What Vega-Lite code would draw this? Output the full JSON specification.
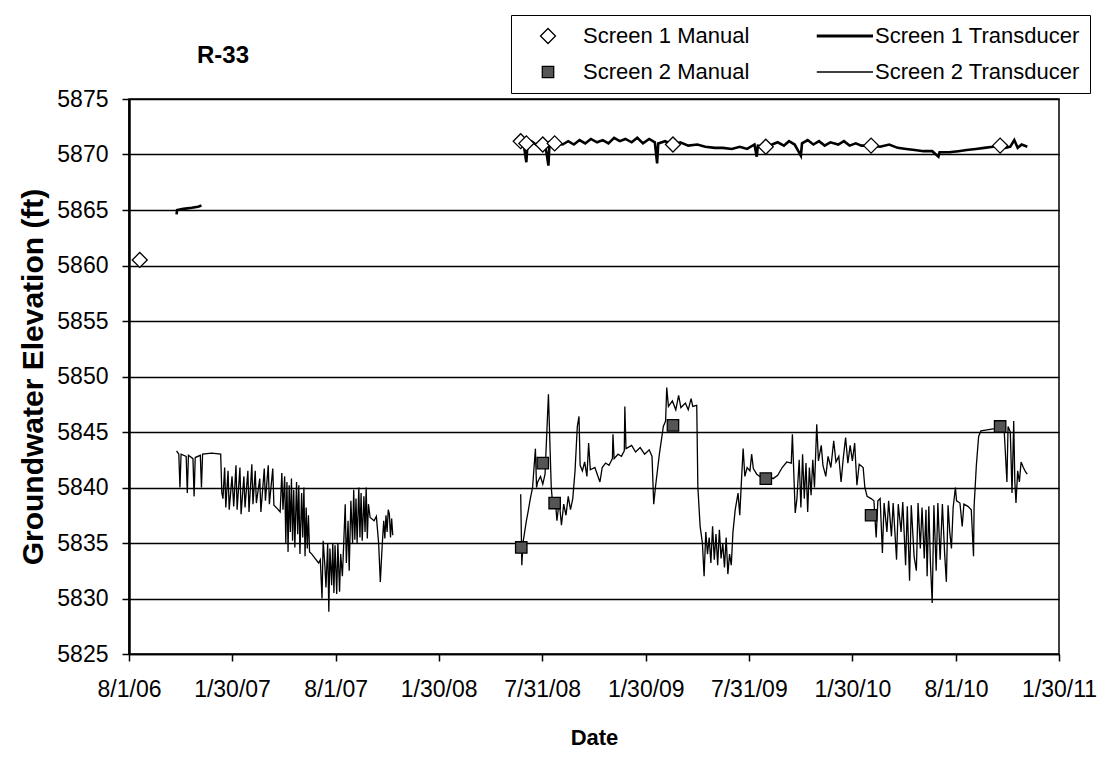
{
"$schema": "https://vega.github.io/schema/vega-lite/v6.json",
"width": 930, "height": 555,
"autosize": {"type": "none"},
"padding": {"left": 129, "top": 99, "right": 50, "bottom": 105},
"background": "white",
"config": {
  "font": "Liberation Sans",
  "view": {"stroke": "black", "strokeWidth": 1.5},
  "axis": {"labelFont": "Liberation Sans", "labelFontSize": 23, "labelColor": "black", "titleFont": "Liberation Sans", "titleFontSize": 22, "titleFontWeight": "bold", "titleColor": "black", "domainColor": "black", "domainWidth": 1.5, "tickColor": "black", "tickWidth": 1.5, "tickSize": 7, "gridColor": "black", "gridWidth": 1.5, "gridOpacity": 1},
  "legend": {"columnPadding": 60, "rowPadding": 14, "padding": 10, "strokeColor": "black", "labelFont": "Liberation Sans", "labelFontSize": 22, "labelColor": "black", "labelOffset": 24, "symbolOffset": 16, "labelLimit": 400, "symbolOpacity": 1}
},
"title": {"text": "R-33", "anchor": "start", "frame": "group", "dx": 68, "offset": -72, "baseline": "alphabetic", "fontSize": 24, "fontWeight": "bold", "font": "Liberation Sans", "color": "black"},
"datasets": {
  "manual": [
    {"series": "Screen 1 Manual", "date": "2006-08-20", "elev": 5860.5},
    {"series": "Screen 1 Manual", "date": "2008-06-23", "elev": 5871.2},
    {"series": "Screen 1 Manual", "date": "2008-07-03", "elev": 5871.0},
    {"series": "Screen 1 Manual", "date": "2008-08-01", "elev": 5870.9},
    {"series": "Screen 1 Manual", "date": "2008-08-22", "elev": 5871.0},
    {"series": "Screen 1 Manual", "date": "2009-03-19", "elev": 5870.9},
    {"series": "Screen 1 Manual", "date": "2009-08-30", "elev": 5870.7},
    {"series": "Screen 1 Manual", "date": "2010-03-04", "elev": 5870.8},
    {"series": "Screen 1 Manual", "date": "2010-10-18", "elev": 5870.8},
    {"series": "Screen 2 Manual", "date": "2008-06-24", "elev": 5834.6},
    {"series": "Screen 2 Manual", "date": "2008-08-01", "elev": 5842.2},
    {"series": "Screen 2 Manual", "date": "2008-08-22", "elev": 5838.6},
    {"series": "Screen 2 Manual", "date": "2009-03-19", "elev": 5845.6},
    {"series": "Screen 2 Manual", "date": "2009-08-30", "elev": 5840.8},
    {"series": "Screen 2 Manual", "date": "2010-03-04", "elev": 5837.5},
    {"series": "Screen 2 Manual", "date": "2010-10-18", "elev": 5845.5}
  ],
  "trans": [
    {"series": "Screen 1 Transducer", "seg": "a0", "date": "2006-10-24", "elev": 5864.6},
    {"series": "Screen 1 Transducer", "seg": "a0", "date": "2006-10-25", "elev": 5865.0},
    {"series": "Screen 1 Transducer", "seg": "a0", "date": "2006-11-05", "elev": 5865.1},
    {"series": "Screen 1 Transducer", "seg": "a0", "date": "2006-11-20", "elev": 5865.2},
    {"series": "Screen 1 Transducer", "seg": "a0", "date": "2006-12-01", "elev": 5865.3},
    {"series": "Screen 1 Transducer", "seg": "a0", "date": "2006-12-07", "elev": 5865.4},

    {"series": "Screen 1 Transducer", "seg": "a1", "date": "2008-06-23", "elev": 5871.3},
    {"series": "Screen 1 Transducer", "seg": "a1", "date": "2008-06-28", "elev": 5871.0},
    {"series": "Screen 1 Transducer", "seg": "a1", "date": "2008-07-03", "elev": 5869.3},
    {"series": "Screen 1 Transducer", "seg": "a1", "date": "2008-07-05", "elev": 5871.0},
    {"series": "Screen 1 Transducer", "seg": "a1", "date": "2008-07-12", "elev": 5871.2},
    {"series": "Screen 1 Transducer", "seg": "a1", "date": "2008-07-20", "elev": 5870.9},
    {"series": "Screen 1 Transducer", "seg": "a1", "date": "2008-07-28", "elev": 5871.1},
    {"series": "Screen 1 Transducer", "seg": "a1", "date": "2008-08-05", "elev": 5871.0},
    {"series": "Screen 1 Transducer", "seg": "a1", "date": "2008-08-11", "elev": 5869.0},
    {"series": "Screen 1 Transducer", "seg": "a1", "date": "2008-08-13", "elev": 5871.1},
    {"series": "Screen 1 Transducer", "seg": "a1", "date": "2008-08-25", "elev": 5871.0},
    {"series": "Screen 1 Transducer", "seg": "a1", "date": "2008-09-05", "elev": 5870.9},
    {"series": "Screen 1 Transducer", "seg": "a1", "date": "2008-09-15", "elev": 5871.2},
    {"series": "Screen 1 Transducer", "seg": "a1", "date": "2008-09-25", "elev": 5870.9},
    {"series": "Screen 1 Transducer", "seg": "a1", "date": "2008-10-05", "elev": 5871.3},
    {"series": "Screen 1 Transducer", "seg": "a1", "date": "2008-10-15", "elev": 5871.0},
    {"series": "Screen 1 Transducer", "seg": "a1", "date": "2008-10-25", "elev": 5871.4},
    {"series": "Screen 1 Transducer", "seg": "a1", "date": "2008-11-05", "elev": 5871.1},
    {"series": "Screen 1 Transducer", "seg": "a1", "date": "2008-11-15", "elev": 5871.3},
    {"series": "Screen 1 Transducer", "seg": "a1", "date": "2008-11-25", "elev": 5871.0},
    {"series": "Screen 1 Transducer", "seg": "a1", "date": "2008-12-05", "elev": 5871.5},
    {"series": "Screen 1 Transducer", "seg": "a1", "date": "2008-12-15", "elev": 5871.2},
    {"series": "Screen 1 Transducer", "seg": "a1", "date": "2008-12-25", "elev": 5871.4},
    {"series": "Screen 1 Transducer", "seg": "a1", "date": "2009-01-05", "elev": 5871.1},
    {"series": "Screen 1 Transducer", "seg": "a1", "date": "2009-01-15", "elev": 5871.5},
    {"series": "Screen 1 Transducer", "seg": "a1", "date": "2009-01-25", "elev": 5871.0},
    {"series": "Screen 1 Transducer", "seg": "a1", "date": "2009-02-05", "elev": 5871.4},
    {"series": "Screen 1 Transducer", "seg": "a1", "date": "2009-02-15", "elev": 5871.1},
    {"series": "Screen 1 Transducer", "seg": "a1", "date": "2009-02-19", "elev": 5869.2},
    {"series": "Screen 1 Transducer", "seg": "a1", "date": "2009-02-21", "elev": 5871.0},
    {"series": "Screen 1 Transducer", "seg": "a1", "date": "2009-03-05", "elev": 5871.2},
    {"series": "Screen 1 Transducer", "seg": "a1", "date": "2009-03-19", "elev": 5870.9},
    {"series": "Screen 1 Transducer", "seg": "a1", "date": "2009-04-01", "elev": 5871.1},
    {"series": "Screen 1 Transducer", "seg": "a1", "date": "2009-04-15", "elev": 5870.8},
    {"series": "Screen 1 Transducer", "seg": "a1", "date": "2009-05-01", "elev": 5870.9},
    {"series": "Screen 1 Transducer", "seg": "a1", "date": "2009-05-15", "elev": 5870.7},
    {"series": "Screen 1 Transducer", "seg": "a1", "date": "2009-06-01", "elev": 5870.6},
    {"series": "Screen 1 Transducer", "seg": "a1", "date": "2009-06-15", "elev": 5870.6},
    {"series": "Screen 1 Transducer", "seg": "a1", "date": "2009-07-01", "elev": 5870.5},
    {"series": "Screen 1 Transducer", "seg": "a1", "date": "2009-07-15", "elev": 5870.7},
    {"series": "Screen 1 Transducer", "seg": "a1", "date": "2009-07-28", "elev": 5870.5},
    {"series": "Screen 1 Transducer", "seg": "a1", "date": "2009-08-10", "elev": 5870.9},
    {"series": "Screen 1 Transducer", "seg": "a1", "date": "2009-08-14", "elev": 5869.8},
    {"series": "Screen 1 Transducer", "seg": "a1", "date": "2009-08-16", "elev": 5870.8},
    {"series": "Screen 1 Transducer", "seg": "a1", "date": "2009-08-30", "elev": 5870.7},
    {"series": "Screen 1 Transducer", "seg": "a1", "date": "2009-09-10", "elev": 5870.9},
    {"series": "Screen 1 Transducer", "seg": "a1", "date": "2009-09-20", "elev": 5871.1},
    {"series": "Screen 1 Transducer", "seg": "a1", "date": "2009-10-01", "elev": 5870.8},
    {"series": "Screen 1 Transducer", "seg": "a1", "date": "2009-10-10", "elev": 5871.2},
    {"series": "Screen 1 Transducer", "seg": "a1", "date": "2009-10-20", "elev": 5870.9},
    {"series": "Screen 1 Transducer", "seg": "a1", "date": "2009-10-31", "elev": 5869.9},
    {"series": "Screen 1 Transducer", "seg": "a1", "date": "2009-11-02", "elev": 5871.0},
    {"series": "Screen 1 Transducer", "seg": "a1", "date": "2009-11-12", "elev": 5871.3},
    {"series": "Screen 1 Transducer", "seg": "a1", "date": "2009-11-22", "elev": 5870.9},
    {"series": "Screen 1 Transducer", "seg": "a1", "date": "2009-12-02", "elev": 5871.2},
    {"series": "Screen 1 Transducer", "seg": "a1", "date": "2009-12-12", "elev": 5870.8},
    {"series": "Screen 1 Transducer", "seg": "a1", "date": "2009-12-22", "elev": 5871.1},
    {"series": "Screen 1 Transducer", "seg": "a1", "date": "2010-01-05", "elev": 5870.9},
    {"series": "Screen 1 Transducer", "seg": "a1", "date": "2010-01-15", "elev": 5871.2},
    {"series": "Screen 1 Transducer", "seg": "a1", "date": "2010-01-25", "elev": 5870.8},
    {"series": "Screen 1 Transducer", "seg": "a1", "date": "2010-02-05", "elev": 5871.0},
    {"series": "Screen 1 Transducer", "seg": "a1", "date": "2010-02-15", "elev": 5870.8},
    {"series": "Screen 1 Transducer", "seg": "a1", "date": "2010-03-04", "elev": 5870.8},
    {"series": "Screen 1 Transducer", "seg": "a1", "date": "2010-03-20", "elev": 5870.7},
    {"series": "Screen 1 Transducer", "seg": "a1", "date": "2010-04-05", "elev": 5870.9},
    {"series": "Screen 1 Transducer", "seg": "a1", "date": "2010-04-20", "elev": 5870.6},
    {"series": "Screen 1 Transducer", "seg": "a1", "date": "2010-05-05", "elev": 5870.5},
    {"series": "Screen 1 Transducer", "seg": "a1", "date": "2010-05-20", "elev": 5870.4},
    {"series": "Screen 1 Transducer", "seg": "a1", "date": "2010-06-05", "elev": 5870.3},
    {"series": "Screen 1 Transducer", "seg": "a1", "date": "2010-06-20", "elev": 5870.3},
    {"series": "Screen 1 Transducer", "seg": "a1", "date": "2010-07-01", "elev": 5869.8},
    {"series": "Screen 1 Transducer", "seg": "a1", "date": "2010-07-03", "elev": 5870.2},
    {"series": "Screen 1 Transducer", "seg": "a1", "date": "2010-07-20", "elev": 5870.2},
    {"series": "Screen 1 Transducer", "seg": "a1", "date": "2010-08-05", "elev": 5870.3},
    {"series": "Screen 1 Transducer", "seg": "a1", "date": "2010-08-20", "elev": 5870.4},
    {"series": "Screen 1 Transducer", "seg": "a1", "date": "2010-09-05", "elev": 5870.5},
    {"series": "Screen 1 Transducer", "seg": "a1", "date": "2010-09-20", "elev": 5870.6},
    {"series": "Screen 1 Transducer", "seg": "a1", "date": "2010-10-05", "elev": 5870.7},
    {"series": "Screen 1 Transducer", "seg": "a1", "date": "2010-10-18", "elev": 5870.9},
    {"series": "Screen 1 Transducer", "seg": "a1", "date": "2010-10-28", "elev": 5870.6},
    {"series": "Screen 1 Transducer", "seg": "a1", "date": "2010-11-05", "elev": 5870.7},
    {"series": "Screen 1 Transducer", "seg": "a1", "date": "2010-11-12", "elev": 5871.3},
    {"series": "Screen 1 Transducer", "seg": "a1", "date": "2010-11-18", "elev": 5870.6},
    {"series": "Screen 1 Transducer", "seg": "a1", "date": "2010-11-25", "elev": 5870.9},
    {"series": "Screen 1 Transducer", "seg": "a1", "date": "2010-12-05", "elev": 5870.7},

    {"series": "Screen 2 Transducer", "seg": "b1", "date": "2006-10-24", "elev": 5843.3},
    {"series": "Screen 2 Transducer", "seg": "b1", "date": "2006-10-28", "elev": 5843.0},
    {"series": "Screen 2 Transducer", "seg": "b1", "date": "2006-10-30", "elev": 5840.0},
    {"series": "Screen 2 Transducer", "seg": "b1", "date": "2006-11-01", "elev": 5843.0},
    {"series": "Screen 2 Transducer", "seg": "b1", "date": "2006-11-10", "elev": 5842.8},
    {"series": "Screen 2 Transducer", "seg": "b1", "date": "2006-11-12", "elev": 5839.5},
    {"series": "Screen 2 Transducer", "seg": "b1", "date": "2006-11-14", "elev": 5842.9},
    {"series": "Screen 2 Transducer", "seg": "b1", "date": "2006-11-22", "elev": 5842.6},
    {"series": "Screen 2 Transducer", "seg": "b1", "date": "2006-11-24", "elev": 5839.2},
    {"series": "Screen 2 Transducer", "seg": "b1", "date": "2006-11-26", "elev": 5842.7},
    {"series": "Screen 2 Transducer", "seg": "b1", "date": "2006-12-05", "elev": 5842.9},
    {"series": "Screen 2 Transducer", "seg": "b1", "date": "2006-12-07", "elev": 5840.0},
    {"series": "Screen 2 Transducer", "seg": "b1", "date": "2006-12-09", "elev": 5843.0},
    {"series": "Screen 2 Transducer", "seg": "b1", "date": "2006-12-25", "elev": 5843.1},
    {"series": "Screen 2 Transducer", "seg": "b1", "date": "2007-01-10", "elev": 5843.0},
    {"series": "Screen 2 Transducer", "seg": "b1", "date": "2007-01-12", "elev": 5839.5},
    {"series": "Screen 2 Transducer", "seg": "b1", "date": "2007-01-14", "elev": 5839.0},
    {"series": "Screen 2 Transducer", "seg": "b1", "date": "2007-01-17", "elev": 5841.8},
    {"series": "Screen 2 Transducer", "seg": "b1", "date": "2007-01-19", "elev": 5838.2},
    {"series": "Screen 2 Transducer", "seg": "b1", "date": "2007-01-23", "elev": 5841.5},
    {"series": "Screen 2 Transducer", "seg": "b1", "date": "2007-01-25", "elev": 5838.0},
    {"series": "Screen 2 Transducer", "seg": "b1", "date": "2007-01-30", "elev": 5841.0},
    {"series": "Screen 2 Transducer", "seg": "b1", "date": "2007-02-02", "elev": 5838.3},
    {"series": "Screen 2 Transducer", "seg": "b1", "date": "2007-02-06", "elev": 5842.0},
    {"series": "Screen 2 Transducer", "seg": "b1", "date": "2007-02-08", "elev": 5838.0},
    {"series": "Screen 2 Transducer", "seg": "b1", "date": "2007-02-13", "elev": 5841.8},
    {"series": "Screen 2 Transducer", "seg": "b1", "date": "2007-02-15", "elev": 5837.6},
    {"series": "Screen 2 Transducer", "seg": "b1", "date": "2007-02-20", "elev": 5841.0},
    {"series": "Screen 2 Transducer", "seg": "b1", "date": "2007-02-22", "elev": 5838.2},
    {"series": "Screen 2 Transducer", "seg": "b1", "date": "2007-02-27", "elev": 5841.5},
    {"series": "Screen 2 Transducer", "seg": "b1", "date": "2007-03-01", "elev": 5837.8},
    {"series": "Screen 2 Transducer", "seg": "b1", "date": "2007-03-06", "elev": 5842.1},
    {"series": "Screen 2 Transducer", "seg": "b1", "date": "2007-03-08", "elev": 5838.5},
    {"series": "Screen 2 Transducer", "seg": "b1", "date": "2007-03-12", "elev": 5841.5},
    {"series": "Screen 2 Transducer", "seg": "b1", "date": "2007-03-14", "elev": 5838.6},
    {"series": "Screen 2 Transducer", "seg": "b1", "date": "2007-03-20", "elev": 5840.8},
    {"series": "Screen 2 Transducer", "seg": "b1", "date": "2007-03-22", "elev": 5837.8},
    {"series": "Screen 2 Transducer", "seg": "b1", "date": "2007-03-28", "elev": 5841.7},
    {"series": "Screen 2 Transducer", "seg": "b1", "date": "2007-03-30", "elev": 5838.8},
    {"series": "Screen 2 Transducer", "seg": "b1", "date": "2007-04-04", "elev": 5842.0},
    {"series": "Screen 2 Transducer", "seg": "b1", "date": "2007-04-06", "elev": 5838.5},
    {"series": "Screen 2 Transducer", "seg": "b1", "date": "2007-04-12", "elev": 5841.7},
    {"series": "Screen 2 Transducer", "seg": "b1", "date": "2007-04-14", "elev": 5838.4},
    {"series": "Screen 2 Transducer", "seg": "b1", "date": "2007-04-20", "elev": 5838.1},
    {"series": "Screen 2 Transducer", "seg": "b1", "date": "2007-04-25", "elev": 5837.8},
    {"series": "Screen 2 Transducer", "seg": "b1", "date": "2007-04-28", "elev": 5841.3},
    {"series": "Screen 2 Transducer", "seg": "b1", "date": "2007-04-30", "elev": 5838.0},
    {"series": "Screen 2 Transducer", "seg": "b1", "date": "2007-05-03", "elev": 5841.0},
    {"series": "Screen 2 Transducer", "seg": "b1", "date": "2007-05-05", "elev": 5835.0},
    {"series": "Screen 2 Transducer", "seg": "b1", "date": "2007-05-07", "elev": 5840.5},
    {"series": "Screen 2 Transducer", "seg": "b1", "date": "2007-05-09", "elev": 5834.2},
    {"series": "Screen 2 Transducer", "seg": "b1", "date": "2007-05-11", "elev": 5840.2},
    {"series": "Screen 2 Transducer", "seg": "b1", "date": "2007-05-13", "elev": 5836.0},
    {"series": "Screen 2 Transducer", "seg": "b1", "date": "2007-05-15", "elev": 5840.8},
    {"series": "Screen 2 Transducer", "seg": "b1", "date": "2007-05-17", "elev": 5835.2},
    {"series": "Screen 2 Transducer", "seg": "b1", "date": "2007-05-19", "elev": 5839.8},
    {"series": "Screen 2 Transducer", "seg": "b1", "date": "2007-05-21", "elev": 5834.6},
    {"series": "Screen 2 Transducer", "seg": "b1", "date": "2007-05-24", "elev": 5840.5},
    {"series": "Screen 2 Transducer", "seg": "b1", "date": "2007-05-26", "elev": 5835.8},
    {"series": "Screen 2 Transducer", "seg": "b1", "date": "2007-05-28", "elev": 5840.2},
    {"series": "Screen 2 Transducer", "seg": "b1", "date": "2007-05-30", "elev": 5834.0},
    {"series": "Screen 2 Transducer", "seg": "b1", "date": "2007-06-02", "elev": 5839.5},
    {"series": "Screen 2 Transducer", "seg": "b1", "date": "2007-06-04", "elev": 5835.5},
    {"series": "Screen 2 Transducer", "seg": "b1", "date": "2007-06-06", "elev": 5840.0},
    {"series": "Screen 2 Transducer", "seg": "b1", "date": "2007-06-08", "elev": 5833.8},
    {"series": "Screen 2 Transducer", "seg": "b1", "date": "2007-06-10", "elev": 5838.2},
    {"series": "Screen 2 Transducer", "seg": "b1", "date": "2007-06-12", "elev": 5834.5},
    {"series": "Screen 2 Transducer", "seg": "b1", "date": "2007-06-14", "elev": 5837.5},
    {"series": "Screen 2 Transducer", "seg": "b1", "date": "2007-06-16", "elev": 5834.2},
    {"series": "Screen 2 Transducer", "seg": "b1", "date": "2007-06-20", "elev": 5834.0},
    {"series": "Screen 2 Transducer", "seg": "b1", "date": "2007-06-26", "elev": 5833.6},
    {"series": "Screen 2 Transducer", "seg": "b1", "date": "2007-07-02", "elev": 5833.2},
    {"series": "Screen 2 Transducer", "seg": "b1", "date": "2007-07-05", "elev": 5833.5},
    {"series": "Screen 2 Transducer", "seg": "b1", "date": "2007-07-08", "elev": 5830.0},
    {"series": "Screen 2 Transducer", "seg": "b1", "date": "2007-07-10", "elev": 5835.2},
    {"series": "Screen 2 Transducer", "seg": "b1", "date": "2007-07-13", "elev": 5833.0},
    {"series": "Screen 2 Transducer", "seg": "b1", "date": "2007-07-15", "elev": 5831.0},
    {"series": "Screen 2 Transducer", "seg": "b1", "date": "2007-07-18", "elev": 5835.0},
    {"series": "Screen 2 Transducer", "seg": "b1", "date": "2007-07-20", "elev": 5828.8},
    {"series": "Screen 2 Transducer", "seg": "b1", "date": "2007-07-22", "elev": 5834.5},
    {"series": "Screen 2 Transducer", "seg": "b1", "date": "2007-07-25", "elev": 5831.2},
    {"series": "Screen 2 Transducer", "seg": "b1", "date": "2007-07-27", "elev": 5835.0},
    {"series": "Screen 2 Transducer", "seg": "b1", "date": "2007-07-29", "elev": 5830.5},
    {"series": "Screen 2 Transducer", "seg": "b1", "date": "2007-07-31", "elev": 5834.8},
    {"series": "Screen 2 Transducer", "seg": "b1", "date": "2007-08-03", "elev": 5830.4},
    {"series": "Screen 2 Transducer", "seg": "b1", "date": "2007-08-05", "elev": 5835.0},
    {"series": "Screen 2 Transducer", "seg": "b1", "date": "2007-08-08", "elev": 5830.6},
    {"series": "Screen 2 Transducer", "seg": "b1", "date": "2007-08-10", "elev": 5834.0},
    {"series": "Screen 2 Transducer", "seg": "b1", "date": "2007-08-13", "elev": 5832.0},
    {"series": "Screen 2 Transducer", "seg": "b1", "date": "2007-08-15", "elev": 5834.5},
    {"series": "Screen 2 Transducer", "seg": "b1", "date": "2007-08-18", "elev": 5838.5},
    {"series": "Screen 2 Transducer", "seg": "b1", "date": "2007-08-20", "elev": 5833.2},
    {"series": "Screen 2 Transducer", "seg": "b1", "date": "2007-08-23", "elev": 5837.0},
    {"series": "Screen 2 Transducer", "seg": "b1", "date": "2007-08-25", "elev": 5832.5},
    {"series": "Screen 2 Transducer", "seg": "b1", "date": "2007-08-28", "elev": 5838.8},
    {"series": "Screen 2 Transducer", "seg": "b1", "date": "2007-08-31", "elev": 5835.0},
    {"series": "Screen 2 Transducer", "seg": "b1", "date": "2007-09-02", "elev": 5839.8},
    {"series": "Screen 2 Transducer", "seg": "b1", "date": "2007-09-04", "elev": 5835.3},
    {"series": "Screen 2 Transducer", "seg": "b1", "date": "2007-09-06", "elev": 5839.0},
    {"series": "Screen 2 Transducer", "seg": "b1", "date": "2007-09-08", "elev": 5835.0},
    {"series": "Screen 2 Transducer", "seg": "b1", "date": "2007-09-11", "elev": 5840.0},
    {"series": "Screen 2 Transducer", "seg": "b1", "date": "2007-09-13", "elev": 5835.5},
    {"series": "Screen 2 Transducer", "seg": "b1", "date": "2007-09-15", "elev": 5839.5},
    {"series": "Screen 2 Transducer", "seg": "b1", "date": "2007-09-17", "elev": 5835.2},
    {"series": "Screen 2 Transducer", "seg": "b1", "date": "2007-09-20", "elev": 5839.2},
    {"series": "Screen 2 Transducer", "seg": "b1", "date": "2007-09-22", "elev": 5836.0},
    {"series": "Screen 2 Transducer", "seg": "b1", "date": "2007-09-24", "elev": 5840.0},
    {"series": "Screen 2 Transducer", "seg": "b1", "date": "2007-09-26", "elev": 5835.4},
    {"series": "Screen 2 Transducer", "seg": "b1", "date": "2007-09-28", "elev": 5838.5},
    {"series": "Screen 2 Transducer", "seg": "b1", "date": "2007-10-01", "elev": 5837.3},
    {"series": "Screen 2 Transducer", "seg": "b1", "date": "2007-10-08", "elev": 5837.0},
    {"series": "Screen 2 Transducer", "seg": "b1", "date": "2007-10-12", "elev": 5837.4},
    {"series": "Screen 2 Transducer", "seg": "b1", "date": "2007-10-16", "elev": 5835.0},
    {"series": "Screen 2 Transducer", "seg": "b1", "date": "2007-10-19", "elev": 5831.5},
    {"series": "Screen 2 Transducer", "seg": "b1", "date": "2007-10-22", "elev": 5834.5},
    {"series": "Screen 2 Transducer", "seg": "b1", "date": "2007-10-25", "elev": 5837.0},
    {"series": "Screen 2 Transducer", "seg": "b1", "date": "2007-10-27", "elev": 5835.4},
    {"series": "Screen 2 Transducer", "seg": "b1", "date": "2007-10-29", "elev": 5837.5},
    {"series": "Screen 2 Transducer", "seg": "b1", "date": "2007-10-31", "elev": 5836.0},
    {"series": "Screen 2 Transducer", "seg": "b1", "date": "2007-11-02", "elev": 5838.0},
    {"series": "Screen 2 Transducer", "seg": "b1", "date": "2007-11-04", "elev": 5837.6},
    {"series": "Screen 2 Transducer", "seg": "b1", "date": "2007-11-06", "elev": 5835.5},
    {"series": "Screen 2 Transducer", "seg": "b1", "date": "2007-11-08", "elev": 5837.2},
    {"series": "Screen 2 Transducer", "seg": "b1", "date": "2007-11-10", "elev": 5835.7},

    {"series": "Screen 2 Transducer", "seg": "b2", "date": "2008-06-23", "elev": 5839.4},
    {"series": "Screen 2 Transducer", "seg": "b2", "date": "2008-06-25", "elev": 5833.0},
    {"series": "Screen 2 Transducer", "seg": "b2", "date": "2008-06-27", "elev": 5835.0},
    {"series": "Screen 2 Transducer", "seg": "b2", "date": "2008-07-03", "elev": 5837.0},
    {"series": "Screen 2 Transducer", "seg": "b2", "date": "2008-07-06", "elev": 5837.8},
    {"series": "Screen 2 Transducer", "seg": "b2", "date": "2008-07-10", "elev": 5839.0},
    {"series": "Screen 2 Transducer", "seg": "b2", "date": "2008-07-14", "elev": 5840.0},
    {"series": "Screen 2 Transducer", "seg": "b2", "date": "2008-07-19", "elev": 5843.5},
    {"series": "Screen 2 Transducer", "seg": "b2", "date": "2008-07-21", "elev": 5840.0},
    {"series": "Screen 2 Transducer", "seg": "b2", "date": "2008-07-23", "elev": 5840.5},
    {"series": "Screen 2 Transducer", "seg": "b2", "date": "2008-07-28", "elev": 5841.0},
    {"series": "Screen 2 Transducer", "seg": "b2", "date": "2008-08-01", "elev": 5840.3},
    {"series": "Screen 2 Transducer", "seg": "b2", "date": "2008-08-05", "elev": 5841.2},
    {"series": "Screen 2 Transducer", "seg": "b2", "date": "2008-08-08", "elev": 5844.8},
    {"series": "Screen 2 Transducer", "seg": "b2", "date": "2008-08-11", "elev": 5848.4},
    {"series": "Screen 2 Transducer", "seg": "b2", "date": "2008-08-13", "elev": 5845.0},
    {"series": "Screen 2 Transducer", "seg": "b2", "date": "2008-08-16", "elev": 5840.0},
    {"series": "Screen 2 Transducer", "seg": "b2", "date": "2008-08-19", "elev": 5838.2},
    {"series": "Screen 2 Transducer", "seg": "b2", "date": "2008-08-23", "elev": 5839.0},
    {"series": "Screen 2 Transducer", "seg": "b2", "date": "2008-08-26", "elev": 5837.0},
    {"series": "Screen 2 Transducer", "seg": "b2", "date": "2008-08-30", "elev": 5838.8},
    {"series": "Screen 2 Transducer", "seg": "b2", "date": "2008-09-03", "elev": 5836.6},
    {"series": "Screen 2 Transducer", "seg": "b2", "date": "2008-09-07", "elev": 5838.5},
    {"series": "Screen 2 Transducer", "seg": "b2", "date": "2008-09-11", "elev": 5837.5},
    {"series": "Screen 2 Transducer", "seg": "b2", "date": "2008-09-15", "elev": 5839.2},
    {"series": "Screen 2 Transducer", "seg": "b2", "date": "2008-09-19", "elev": 5838.0},
    {"series": "Screen 2 Transducer", "seg": "b2", "date": "2008-09-23", "elev": 5839.0},
    {"series": "Screen 2 Transducer", "seg": "b2", "date": "2008-09-27", "elev": 5841.5},
    {"series": "Screen 2 Transducer", "seg": "b2", "date": "2008-10-01", "elev": 5845.5},
    {"series": "Screen 2 Transducer", "seg": "b2", "date": "2008-10-04", "elev": 5846.4},
    {"series": "Screen 2 Transducer", "seg": "b2", "date": "2008-10-06", "elev": 5842.0},
    {"series": "Screen 2 Transducer", "seg": "b2", "date": "2008-10-10", "elev": 5841.5},
    {"series": "Screen 2 Transducer", "seg": "b2", "date": "2008-10-14", "elev": 5842.3},
    {"series": "Screen 2 Transducer", "seg": "b2", "date": "2008-10-18", "elev": 5841.0},
    {"series": "Screen 2 Transducer", "seg": "b2", "date": "2008-10-21", "elev": 5844.0},
    {"series": "Screen 2 Transducer", "seg": "b2", "date": "2008-10-24", "elev": 5841.6},
    {"series": "Screen 2 Transducer", "seg": "b2", "date": "2008-11-01", "elev": 5841.8},
    {"series": "Screen 2 Transducer", "seg": "b2", "date": "2008-11-10", "elev": 5840.5},
    {"series": "Screen 2 Transducer", "seg": "b2", "date": "2008-11-14", "elev": 5841.8},
    {"series": "Screen 2 Transducer", "seg": "b2", "date": "2008-11-20", "elev": 5842.2},
    {"series": "Screen 2 Transducer", "seg": "b2", "date": "2008-11-26", "elev": 5842.0},
    {"series": "Screen 2 Transducer", "seg": "b2", "date": "2008-12-02", "elev": 5842.6},
    {"series": "Screen 2 Transducer", "seg": "b2", "date": "2008-12-03", "elev": 5844.8},
    {"series": "Screen 2 Transducer", "seg": "b2", "date": "2008-12-05", "elev": 5842.6},
    {"series": "Screen 2 Transducer", "seg": "b2", "date": "2008-12-12", "elev": 5843.0},
    {"series": "Screen 2 Transducer", "seg": "b2", "date": "2008-12-18", "elev": 5842.8},
    {"series": "Screen 2 Transducer", "seg": "b2", "date": "2008-12-23", "elev": 5843.3},
    {"series": "Screen 2 Transducer", "seg": "b2", "date": "2008-12-24", "elev": 5847.3},
    {"series": "Screen 2 Transducer", "seg": "b2", "date": "2008-12-26", "elev": 5843.5},
    {"series": "Screen 2 Transducer", "seg": "b2", "date": "2009-01-05", "elev": 5843.8},
    {"series": "Screen 2 Transducer", "seg": "b2", "date": "2009-01-12", "elev": 5843.2},
    {"series": "Screen 2 Transducer", "seg": "b2", "date": "2009-01-20", "elev": 5843.6},
    {"series": "Screen 2 Transducer", "seg": "b2", "date": "2009-01-28", "elev": 5843.0},
    {"series": "Screen 2 Transducer", "seg": "b2", "date": "2009-02-05", "elev": 5843.4},
    {"series": "Screen 2 Transducer", "seg": "b2", "date": "2009-02-10", "elev": 5842.8},
    {"series": "Screen 2 Transducer", "seg": "b2", "date": "2009-02-13", "elev": 5838.5},
    {"series": "Screen 2 Transducer", "seg": "b2", "date": "2009-02-16", "elev": 5840.0},
    {"series": "Screen 2 Transducer", "seg": "b2", "date": "2009-02-23", "elev": 5843.0},
    {"series": "Screen 2 Transducer", "seg": "b2", "date": "2009-03-02", "elev": 5845.5},
    {"series": "Screen 2 Transducer", "seg": "b2", "date": "2009-03-06", "elev": 5846.0},
    {"series": "Screen 2 Transducer", "seg": "b2", "date": "2009-03-08", "elev": 5849.0},
    {"series": "Screen 2 Transducer", "seg": "b2", "date": "2009-03-11", "elev": 5847.3},
    {"series": "Screen 2 Transducer", "seg": "b2", "date": "2009-03-18", "elev": 5847.8},
    {"series": "Screen 2 Transducer", "seg": "b2", "date": "2009-03-24", "elev": 5847.0},
    {"series": "Screen 2 Transducer", "seg": "b2", "date": "2009-03-29", "elev": 5848.3},
    {"series": "Screen 2 Transducer", "seg": "b2", "date": "2009-04-02", "elev": 5847.2},
    {"series": "Screen 2 Transducer", "seg": "b2", "date": "2009-04-10", "elev": 5847.6},
    {"series": "Screen 2 Transducer", "seg": "b2", "date": "2009-04-15", "elev": 5847.0},
    {"series": "Screen 2 Transducer", "seg": "b2", "date": "2009-04-20", "elev": 5848.0},
    {"series": "Screen 2 Transducer", "seg": "b2", "date": "2009-04-23", "elev": 5847.3},
    {"series": "Screen 2 Transducer", "seg": "b2", "date": "2009-04-30", "elev": 5847.4},
    {"series": "Screen 2 Transducer", "seg": "b2", "date": "2009-05-02", "elev": 5840.0},
    {"series": "Screen 2 Transducer", "seg": "b2", "date": "2009-05-06", "elev": 5836.5},
    {"series": "Screen 2 Transducer", "seg": "b2", "date": "2009-05-10", "elev": 5835.0},
    {"series": "Screen 2 Transducer", "seg": "b2", "date": "2009-05-13", "elev": 5832.0},
    {"series": "Screen 2 Transducer", "seg": "b2", "date": "2009-05-16", "elev": 5836.0},
    {"series": "Screen 2 Transducer", "seg": "b2", "date": "2009-05-19", "elev": 5834.0},
    {"series": "Screen 2 Transducer", "seg": "b2", "date": "2009-05-22", "elev": 5835.5},
    {"series": "Screen 2 Transducer", "seg": "b2", "date": "2009-05-25", "elev": 5833.2},
    {"series": "Screen 2 Transducer", "seg": "b2", "date": "2009-05-28", "elev": 5836.5},
    {"series": "Screen 2 Transducer", "seg": "b2", "date": "2009-05-31", "elev": 5833.5},
    {"series": "Screen 2 Transducer", "seg": "b2", "date": "2009-06-03", "elev": 5835.8},
    {"series": "Screen 2 Transducer", "seg": "b2", "date": "2009-06-06", "elev": 5833.0},
    {"series": "Screen 2 Transducer", "seg": "b2", "date": "2009-06-09", "elev": 5836.2},
    {"series": "Screen 2 Transducer", "seg": "b2", "date": "2009-06-12", "elev": 5833.6},
    {"series": "Screen 2 Transducer", "seg": "b2", "date": "2009-06-15", "elev": 5835.0},
    {"series": "Screen 2 Transducer", "seg": "b2", "date": "2009-06-18", "elev": 5832.8},
    {"series": "Screen 2 Transducer", "seg": "b2", "date": "2009-06-21", "elev": 5835.5},
    {"series": "Screen 2 Transducer", "seg": "b2", "date": "2009-06-24", "elev": 5832.2},
    {"series": "Screen 2 Transducer", "seg": "b2", "date": "2009-06-27", "elev": 5834.0},
    {"series": "Screen 2 Transducer", "seg": "b2", "date": "2009-06-30", "elev": 5833.0},
    {"series": "Screen 2 Transducer", "seg": "b2", "date": "2009-07-03", "elev": 5836.0},
    {"series": "Screen 2 Transducer", "seg": "b2", "date": "2009-07-07", "elev": 5838.0},
    {"series": "Screen 2 Transducer", "seg": "b2", "date": "2009-07-12", "elev": 5839.5},
    {"series": "Screen 2 Transducer", "seg": "b2", "date": "2009-07-15", "elev": 5837.5},
    {"series": "Screen 2 Transducer", "seg": "b2", "date": "2009-07-18", "elev": 5840.6},
    {"series": "Screen 2 Transducer", "seg": "b2", "date": "2009-07-21", "elev": 5843.5},
    {"series": "Screen 2 Transducer", "seg": "b2", "date": "2009-07-24", "elev": 5841.0},
    {"series": "Screen 2 Transducer", "seg": "b2", "date": "2009-07-28", "elev": 5841.8},
    {"series": "Screen 2 Transducer", "seg": "b2", "date": "2009-08-02", "elev": 5841.5},
    {"series": "Screen 2 Transducer", "seg": "b2", "date": "2009-08-05", "elev": 5843.0},
    {"series": "Screen 2 Transducer", "seg": "b2", "date": "2009-08-08", "elev": 5841.7},
    {"series": "Screen 2 Transducer", "seg": "b2", "date": "2009-08-14", "elev": 5841.2},
    {"series": "Screen 2 Transducer", "seg": "b2", "date": "2009-08-22", "elev": 5840.9},
    {"series": "Screen 2 Transducer", "seg": "b2", "date": "2009-08-28", "elev": 5840.7},
    {"series": "Screen 2 Transducer", "seg": "b2", "date": "2009-09-05", "elev": 5841.0},
    {"series": "Screen 2 Transducer", "seg": "b2", "date": "2009-09-12", "elev": 5840.8},
    {"series": "Screen 2 Transducer", "seg": "b2", "date": "2009-09-20", "elev": 5841.1},
    {"series": "Screen 2 Transducer", "seg": "b2", "date": "2009-09-28", "elev": 5841.8},
    {"series": "Screen 2 Transducer", "seg": "b2", "date": "2009-10-06", "elev": 5842.3},
    {"series": "Screen 2 Transducer", "seg": "b2", "date": "2009-10-14", "elev": 5842.2},
    {"series": "Screen 2 Transducer", "seg": "b2", "date": "2009-10-16", "elev": 5844.8},
    {"series": "Screen 2 Transducer", "seg": "b2", "date": "2009-10-18", "elev": 5842.0},
    {"series": "Screen 2 Transducer", "seg": "b2", "date": "2009-10-21", "elev": 5837.7},
    {"series": "Screen 2 Transducer", "seg": "b2", "date": "2009-10-24", "elev": 5839.0},
    {"series": "Screen 2 Transducer", "seg": "b2", "date": "2009-10-28", "elev": 5842.5},
    {"series": "Screen 2 Transducer", "seg": "b2", "date": "2009-10-31", "elev": 5838.2},
    {"series": "Screen 2 Transducer", "seg": "b2", "date": "2009-11-03", "elev": 5843.0},
    {"series": "Screen 2 Transducer", "seg": "b2", "date": "2009-11-06", "elev": 5839.0},
    {"series": "Screen 2 Transducer", "seg": "b2", "date": "2009-11-09", "elev": 5842.2},
    {"series": "Screen 2 Transducer", "seg": "b2", "date": "2009-11-12", "elev": 5837.8},
    {"series": "Screen 2 Transducer", "seg": "b2", "date": "2009-11-15", "elev": 5841.8},
    {"series": "Screen 2 Transducer", "seg": "b2", "date": "2009-11-18", "elev": 5839.3},
    {"series": "Screen 2 Transducer", "seg": "b2", "date": "2009-11-21", "elev": 5842.5},
    {"series": "Screen 2 Transducer", "seg": "b2", "date": "2009-11-24", "elev": 5840.0},
    {"series": "Screen 2 Transducer", "seg": "b2", "date": "2009-11-28", "elev": 5845.7},
    {"series": "Screen 2 Transducer", "seg": "b2", "date": "2009-12-01", "elev": 5842.4},
    {"series": "Screen 2 Transducer", "seg": "b2", "date": "2009-12-06", "elev": 5843.8},
    {"series": "Screen 2 Transducer", "seg": "b2", "date": "2009-12-09", "elev": 5842.0},
    {"series": "Screen 2 Transducer", "seg": "b2", "date": "2009-12-14", "elev": 5841.0},
    {"series": "Screen 2 Transducer", "seg": "b2", "date": "2009-12-18", "elev": 5842.8},
    {"series": "Screen 2 Transducer", "seg": "b2", "date": "2009-12-23", "elev": 5841.8},
    {"series": "Screen 2 Transducer", "seg": "b2", "date": "2009-12-28", "elev": 5844.2},
    {"series": "Screen 2 Transducer", "seg": "b2", "date": "2010-01-01", "elev": 5842.3},
    {"series": "Screen 2 Transducer", "seg": "b2", "date": "2010-01-06", "elev": 5842.8},
    {"series": "Screen 2 Transducer", "seg": "b2", "date": "2010-01-10", "elev": 5840.5},
    {"series": "Screen 2 Transducer", "seg": "b2", "date": "2010-01-14", "elev": 5842.7},
    {"series": "Screen 2 Transducer", "seg": "b2", "date": "2010-01-18", "elev": 5844.5},
    {"series": "Screen 2 Transducer", "seg": "b2", "date": "2010-01-22", "elev": 5842.2},
    {"series": "Screen 2 Transducer", "seg": "b2", "date": "2010-01-26", "elev": 5843.8},
    {"series": "Screen 2 Transducer", "seg": "b2", "date": "2010-01-30", "elev": 5842.4},
    {"series": "Screen 2 Transducer", "seg": "b2", "date": "2010-02-03", "elev": 5844.0},
    {"series": "Screen 2 Transducer", "seg": "b2", "date": "2010-02-07", "elev": 5840.2},
    {"series": "Screen 2 Transducer", "seg": "b2", "date": "2010-02-11", "elev": 5842.1},
    {"series": "Screen 2 Transducer", "seg": "b2", "date": "2010-02-18", "elev": 5841.8},
    {"series": "Screen 2 Transducer", "seg": "b2", "date": "2010-02-21", "elev": 5840.0},
    {"series": "Screen 2 Transducer", "seg": "b2", "date": "2010-02-25", "elev": 5839.2},
    {"series": "Screen 2 Transducer", "seg": "b2", "date": "2010-03-04", "elev": 5839.0},
    {"series": "Screen 2 Transducer", "seg": "b2", "date": "2010-03-09", "elev": 5838.8},
    {"series": "Screen 2 Transducer", "seg": "b2", "date": "2010-03-13", "elev": 5835.5},
    {"series": "Screen 2 Transducer", "seg": "b2", "date": "2010-03-16", "elev": 5838.8},
    {"series": "Screen 2 Transducer", "seg": "b2", "date": "2010-03-20", "elev": 5839.0},
    {"series": "Screen 2 Transducer", "seg": "b2", "date": "2010-03-24", "elev": 5834.1},
    {"series": "Screen 2 Transducer", "seg": "b2", "date": "2010-03-27", "elev": 5838.6},
    {"series": "Screen 2 Transducer", "seg": "b2", "date": "2010-04-01", "elev": 5836.0},
    {"series": "Screen 2 Transducer", "seg": "b2", "date": "2010-04-04", "elev": 5838.8},
    {"series": "Screen 2 Transducer", "seg": "b2", "date": "2010-04-09", "elev": 5835.6},
    {"series": "Screen 2 Transducer", "seg": "b2", "date": "2010-04-12", "elev": 5838.6},
    {"series": "Screen 2 Transducer", "seg": "b2", "date": "2010-04-18", "elev": 5833.5},
    {"series": "Screen 2 Transducer", "seg": "b2", "date": "2010-04-21", "elev": 5838.5},
    {"series": "Screen 2 Transducer", "seg": "b2", "date": "2010-04-26", "elev": 5836.0},
    {"series": "Screen 2 Transducer", "seg": "b2", "date": "2010-04-29", "elev": 5838.7},
    {"series": "Screen 2 Transducer", "seg": "b2", "date": "2010-05-04", "elev": 5833.0},
    {"series": "Screen 2 Transducer", "seg": "b2", "date": "2010-05-07", "elev": 5838.3},
    {"series": "Screen 2 Transducer", "seg": "b2", "date": "2010-05-11", "elev": 5831.6},
    {"series": "Screen 2 Transducer", "seg": "b2", "date": "2010-05-14", "elev": 5838.4},
    {"series": "Screen 2 Transducer", "seg": "b2", "date": "2010-05-19", "elev": 5833.8},
    {"series": "Screen 2 Transducer", "seg": "b2", "date": "2010-05-23", "elev": 5832.5},
    {"series": "Screen 2 Transducer", "seg": "b2", "date": "2010-05-26", "elev": 5838.6},
    {"series": "Screen 2 Transducer", "seg": "b2", "date": "2010-05-30", "elev": 5834.5},
    {"series": "Screen 2 Transducer", "seg": "b2", "date": "2010-06-02", "elev": 5838.2},
    {"series": "Screen 2 Transducer", "seg": "b2", "date": "2010-06-06", "elev": 5833.6},
    {"series": "Screen 2 Transducer", "seg": "b2", "date": "2010-06-09", "elev": 5838.0},
    {"series": "Screen 2 Transducer", "seg": "b2", "date": "2010-06-11", "elev": 5832.0},
    {"series": "Screen 2 Transducer", "seg": "b2", "date": "2010-06-14", "elev": 5838.3},
    {"series": "Screen 2 Transducer", "seg": "b2", "date": "2010-06-17", "elev": 5833.0},
    {"series": "Screen 2 Transducer", "seg": "b2", "date": "2010-06-20", "elev": 5829.6},
    {"series": "Screen 2 Transducer", "seg": "b2", "date": "2010-06-23", "elev": 5838.4},
    {"series": "Screen 2 Transducer", "seg": "b2", "date": "2010-06-27", "elev": 5832.5},
    {"series": "Screen 2 Transducer", "seg": "b2", "date": "2010-06-30", "elev": 5838.6},
    {"series": "Screen 2 Transducer", "seg": "b2", "date": "2010-07-04", "elev": 5833.5},
    {"series": "Screen 2 Transducer", "seg": "b2", "date": "2010-07-08", "elev": 5838.5},
    {"series": "Screen 2 Transducer", "seg": "b2", "date": "2010-07-12", "elev": 5834.0},
    {"series": "Screen 2 Transducer", "seg": "b2", "date": "2010-07-15", "elev": 5831.5},
    {"series": "Screen 2 Transducer", "seg": "b2", "date": "2010-07-18", "elev": 5838.4},
    {"series": "Screen 2 Transducer", "seg": "b2", "date": "2010-07-21", "elev": 5836.0},
    {"series": "Screen 2 Transducer", "seg": "b2", "date": "2010-07-24", "elev": 5834.5},
    {"series": "Screen 2 Transducer", "seg": "b2", "date": "2010-07-27", "elev": 5838.2},
    {"series": "Screen 2 Transducer", "seg": "b2", "date": "2010-07-31", "elev": 5840.0},
    {"series": "Screen 2 Transducer", "seg": "b2", "date": "2010-08-02", "elev": 5838.8},
    {"series": "Screen 2 Transducer", "seg": "b2", "date": "2010-08-08", "elev": 5838.6},
    {"series": "Screen 2 Transducer", "seg": "b2", "date": "2010-08-12", "elev": 5836.5},
    {"series": "Screen 2 Transducer", "seg": "b2", "date": "2010-08-15", "elev": 5838.5},
    {"series": "Screen 2 Transducer", "seg": "b2", "date": "2010-08-22", "elev": 5838.3},
    {"series": "Screen 2 Transducer", "seg": "b2", "date": "2010-08-28", "elev": 5838.0},
    {"series": "Screen 2 Transducer", "seg": "b2", "date": "2010-09-01", "elev": 5833.8},
    {"series": "Screen 2 Transducer", "seg": "b2", "date": "2010-09-02", "elev": 5838.3},
    {"series": "Screen 2 Transducer", "seg": "b2", "date": "2010-09-06", "elev": 5842.0},
    {"series": "Screen 2 Transducer", "seg": "b2", "date": "2010-09-10", "elev": 5844.6},
    {"series": "Screen 2 Transducer", "seg": "b2", "date": "2010-09-14", "elev": 5845.1},
    {"series": "Screen 2 Transducer", "seg": "b2", "date": "2010-09-25", "elev": 5845.2},
    {"series": "Screen 2 Transducer", "seg": "b2", "date": "2010-10-08", "elev": 5845.3},
    {"series": "Screen 2 Transducer", "seg": "b2", "date": "2010-10-18", "elev": 5845.4},
    {"series": "Screen 2 Transducer", "seg": "b2", "date": "2010-10-25", "elev": 5845.3},
    {"series": "Screen 2 Transducer", "seg": "b2", "date": "2010-10-30", "elev": 5840.5},
    {"series": "Screen 2 Transducer", "seg": "b2", "date": "2010-11-01", "elev": 5845.5},
    {"series": "Screen 2 Transducer", "seg": "b2", "date": "2010-11-05", "elev": 5845.0},
    {"series": "Screen 2 Transducer", "seg": "b2", "date": "2010-11-08", "elev": 5839.5},
    {"series": "Screen 2 Transducer", "seg": "b2", "date": "2010-11-11", "elev": 5846.0},
    {"series": "Screen 2 Transducer", "seg": "b2", "date": "2010-11-13", "elev": 5840.5},
    {"series": "Screen 2 Transducer", "seg": "b2", "date": "2010-11-15", "elev": 5838.6},
    {"series": "Screen 2 Transducer", "seg": "b2", "date": "2010-11-18", "elev": 5841.5},
    {"series": "Screen 2 Transducer", "seg": "b2", "date": "2010-11-21", "elev": 5840.5},
    {"series": "Screen 2 Transducer", "seg": "b2", "date": "2010-11-24", "elev": 5842.3},
    {"series": "Screen 2 Transducer", "seg": "b2", "date": "2010-11-28", "elev": 5841.8},
    {"series": "Screen 2 Transducer", "seg": "b2", "date": "2010-12-02", "elev": 5841.4},
    {"series": "Screen 2 Transducer", "seg": "b2", "date": "2010-12-05", "elev": 5841.2}
  ]
},
"encoding": {
  "x": {"field": "date", "type": "temporal", "title": "Date",
        "scale": {"type": "utc", "domain": [{"year": 2006, "month": 8, "date": 1, "utc": true}, {"year": 2011, "month": 1, "date": 30, "utc": true}]},
        "axis": {"format": "%-m/%-d/%y", "grid": false, "labelOverlap": false, "labelFlush": false, "labelPadding": 17, "titlePadding": 26,
                 "values": [{"year": 2006, "month": 8, "date": 1, "utc": true}, {"year": 2007, "month": 1, "date": 30, "utc": true}, {"year": 2007, "month": 8, "date": 1, "utc": true}, {"year": 2008, "month": 1, "date": 30, "utc": true}, {"year": 2008, "month": 7, "date": 31, "utc": true}, {"year": 2009, "month": 1, "date": 30, "utc": true}, {"year": 2009, "month": 7, "date": 31, "utc": true}, {"year": 2010, "month": 1, "date": 30, "utc": true}, {"year": 2010, "month": 8, "date": 1, "utc": true}, {"year": 2011, "month": 1, "date": 30, "utc": true}]}},
  "y": {"field": "elev", "type": "quantitative", "title": "Groundwater Elevation (ft)",
        "scale": {"domain": [5825, 5875], "nice": false, "zero": false},
        "axis": {"values": [5825, 5830, 5835, 5840, 5845, 5850, 5855, 5860, 5865, 5870, 5875], "format": "d", "grid": true, "domainWidth": 2.5, "labelPadding": 14, "titlePadding": 8, "titleFontSize": 30}}
},
"layer": [
  {
    "data": {"name": "trans"},
    "mark": {"type": "line", "interpolate": "linear", "stroke": "black"},
    "encoding": {
      "detail": {"field": "seg", "type": "nominal"},
      "strokeWidth": {"condition": {"test": "datum.series === 'Screen 1 Transducer'", "value": 2.6}, "value": 1.3}
    }
  },
  {
    "data": {"name": "manual"},
    "mark": {"type": "point", "filled": true, "opacity": 1},
    "encoding": {
      "shape": {"field": "series", "type": "nominal",
                "scale": {"domain": ["Screen 1 Manual", "Screen 2 Manual", "Screen 1 Transducer", "Screen 2 Transducer"], "range": ["diamond", "square", "M-3.1,0L4.4,0", "M-3.1,0L4.4,0"]},
                "legend": {"title": null, "orient": "none", "legendX": 382, "legendY": -84, "columns": 2}},
      "fill": {"field": "series", "type": "nominal",
               "scale": {"type": "ordinal", "domain": ["Screen 1 Manual", "Screen 2 Manual", "Screen 1 Transducer", "Screen 2 Transducer"], "range": ["white", "#555555", "transparent", "transparent"]},
               "legend": {"title": null, "orient": "none", "legendX": 382, "legendY": -84, "columns": 2}},
      "stroke": {"field": "series", "type": "nominal",
               "scale": {"type": "ordinal", "domain": ["Screen 1 Manual", "Screen 2 Manual", "Screen 1 Transducer", "Screen 2 Transducer"], "range": ["black", "black", "black", "black"]},
               "legend": {"title": null, "orient": "none", "legendX": 382, "legendY": -84, "columns": 2}},
      "size": {"field": "series", "type": "nominal",
               "scale": {"type": "ordinal", "domain": ["Screen 1 Manual", "Screen 2 Manual", "Screen 1 Transducer", "Screen 2 Transducer"], "range": [225, 130, 225, 225]},
               "legend": {"title": null, "orient": "none", "legendX": 382, "legendY": -84, "columns": 2}},
      "strokeWidth": {"field": "series", "type": "nominal",
               "scale": {"type": "ordinal", "domain": ["Screen 1 Manual", "Screen 2 Manual", "Screen 1 Transducer", "Screen 2 Transducer"], "range": [1.3, 1.3, 3, 1.3]},
               "legend": {"title": null, "orient": "none", "legendX": 382, "legendY": -84, "columns": 2}}
    }
  }
]
}
